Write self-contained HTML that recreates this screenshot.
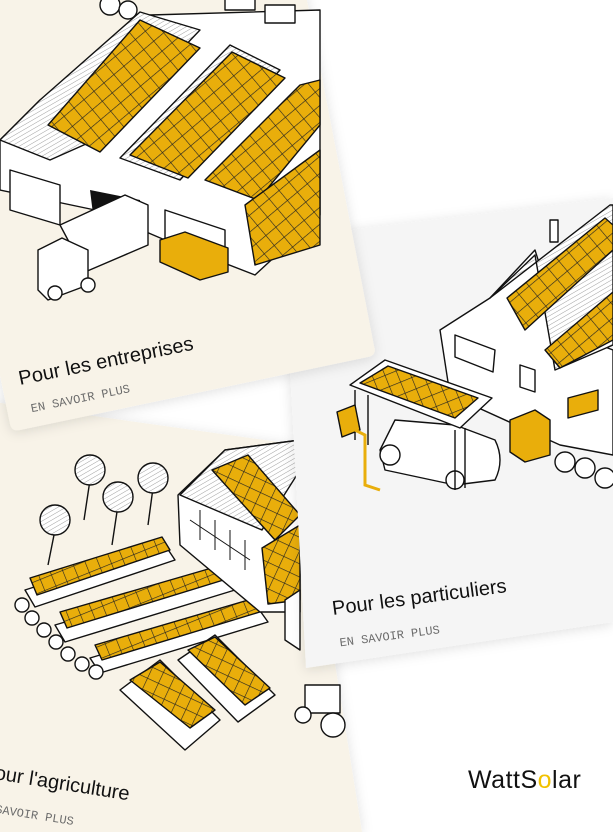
<!DOCTYPE html>
<html><head><meta charset="utf-8"><style>
html,body{margin:0;padding:0;background:#fff;width:613px;height:832px;overflow:hidden}
svg{display:block}
.t{font-family:"Liberation Sans",sans-serif;font-size:20px;fill:#111;font-weight:500}
.m{font-family:"Liberation Mono",monospace;font-size:12px;fill:#6b6b6b}
.o{stroke:#111;stroke-width:1.4;fill:#fff;stroke-linejoin:round}
.p{stroke:#111;stroke-width:1.4;stroke-linejoin:round}
</style></head><body>
<svg width="613" height="832" viewBox="0 0 613 832" xmlns="http://www.w3.org/2000/svg">
<defs>
<pattern id="g1" width="13" height="13" patternUnits="userSpaceOnUse" patternTransform="rotate(-40)">
<rect width="13" height="13" fill="#e9ae0b"/><path d="M0 0H13M0 0V13" stroke="#222" stroke-width="1.2"/></pattern>
<pattern id="g2" width="12" height="12" patternUnits="userSpaceOnUse" patternTransform="rotate(-22)">
<rect width="12" height="12" fill="#e9ae0b"/><path d="M0 0H12M0 0V12" stroke="#222" stroke-width="1.2"/></pattern>
<pattern id="g3" width="12" height="12" patternUnits="userSpaceOnUse" patternTransform="rotate(25)">
<rect width="12" height="12" fill="#e9ae0b"/><path d="M0 0H12M0 0V12" stroke="#222" stroke-width="1.2"/></pattern>
<pattern id="h" width="4" height="4" patternUnits="userSpaceOnUse" patternTransform="rotate(-30)">
<rect width="4" height="4" fill="#fff"/><path d="M0 0H4" stroke="#888" stroke-width="0.8"/></pattern>
<filter id="sh" x="-20%" y="-20%" width="140%" height="140%"><feDropShadow dx="0" dy="2" stdDeviation="6" flood-opacity="0.12"/></filter>
</defs>

<g filter="url(#sh)"><polygon points="-20,400 300,445 362,832 -20,832" fill="#f8f3e8"/></g>
<g>
 <g class="o">
  <line x1="55" y1="530" x2="48" y2="565"/><circle cx="55" cy="520" r="15" fill="url(#h)" stroke="#111"/>
  <line x1="90" y1="480" x2="84" y2="520"/><circle cx="90" cy="470" r="15" fill="url(#h)" stroke="#111"/>
  <line x1="118" y1="505" x2="112" y2="545"/><circle cx="118" cy="497" r="15" fill="url(#h)" stroke="#111"/>
  <line x1="153" y1="488" x2="148" y2="525"/><circle cx="153" cy="478" r="15" fill="url(#h)" stroke="#111"/>
 </g>
 <polygon class="o" points="25,590 165,545 175,560 35,607"/>
 <polygon class="p" points="30,578 162,537 170,550 37,595" fill="url(#g2)"/>
 <polygon class="o" points="55,625 225,575 235,590 65,642"/>
 <polygon class="p" points="60,612 222,565 230,578 67,628" fill="url(#g2)"/>
 <polygon class="o" points="90,658 258,608 268,622 100,673"/>
 <polygon class="p" points="95,645 255,598 263,611 102,660" fill="url(#g2)"/>
 <g class="o">
  <circle cx="22" cy="605" r="7"/><circle cx="32" cy="618" r="7"/><circle cx="44" cy="630" r="7"/><circle cx="56" cy="642" r="7"/><circle cx="68" cy="654" r="7"/><circle cx="82" cy="664" r="7"/><circle cx="96" cy="672" r="7"/>
 </g>
 <polygon class="o" points="178,495 225,450 300,440 300,612 260,612 180,545"/>
 <polygon class="p" points="180,495 225,450 300,440 300,470 262,530" fill="url(#h)"/>
 <polygon class="p" points="212,470 248,455 300,515 275,540" fill="url(#g3)"/>
 <polygon class="p" points="262,548 300,525 300,600 268,604" fill="url(#g3)"/>
 <path d="M190 520l60 40M200 510v30M215 520v30M230 530v30M245 540v30" stroke="#111" fill="none"/>
 <polygon class="o" points="120,690 160,660 220,720 185,750"/>
 <polygon class="p" points="130,680 160,662 215,710 190,728" fill="url(#g3)"/>
 <polygon class="o" points="178,660 215,635 275,695 238,722"/>
 <polygon class="p" points="188,650 215,637 270,688 245,705" fill="url(#g3)"/>
 <rect class="o" x="305" y="685" width="35" height="28"/><circle class="o" cx="333" cy="725" r="12"/><circle class="o" cx="303" cy="715" r="8"/>
 <polygon class="o" points="285,600 300,590 300,650 285,640"/>
</g>
<g transform="rotate(9 0 780)">
 <text class="t" x="-6" y="780">our l'agriculture</text>
 <text class="m" x="0" y="813">SAVOIR PLUS</text>
</g>

<g filter="url(#sh)"><polygon points="283,238 613,198 613,622 306,668" fill="#f5f5f5"/></g>
<g>
 <rect class="o" x="550" y="220" width="8" height="22"/>
 <polygon class="o" points="440,330 490,298 535,250 560,330 613,350 613,455 560,445 450,395"/>
 <polygon class="p" points="490,298 610,205 613,205 613,345 555,370 535,255" fill="url(#h)"/>
 <polygon class="p" points="507,298 605,218 613,225 613,250 525,330" fill="url(#g1)"/>
 <polygon class="p" points="545,350 613,292 613,340 560,368" fill="url(#g1)"/>
 <polygon class="o" points="455,335 495,350 493,372 455,357"/>
 <polygon class="o" points="520,365 535,370 535,392 520,387"/>
 <polygon class="p" points="568,398 598,390 598,410 568,418" fill="#e9ae0b"/>
 <polygon class="p" points="510,420 535,410 550,420 550,455 525,462 510,452" fill="#e9ae0b"/>
 <g class="o"><circle cx="565" cy="462" r="10"/><circle cx="585" cy="468" r="10"/><circle cx="605" cy="478" r="10"/></g>
 <path class="o" d="M380 450 L395 420 L455 425 L495 440 Q505 460 495 480 L455 485 L385 470 Z"/>
 <circle class="o" cx="390" cy="455" r="10"/><circle class="o" cx="455" cy="480" r="9"/>
 <polygon class="o" points="350,385 385,360 492,398 460,428"/>
 <polygon class="p" points="360,383 388,366 478,398 455,418" fill="url(#g2)"/>
 <path class="o" d="M355 390v50M368 395v50M455 430v60M465 428v60" fill="none"/>
 <polygon class="p" points="337,412 355,405 360,430 342,437" fill="#e9ae0b"/>
 <path d="M355 430 l10 5 v50 l15 5" stroke="#e9ae0b" stroke-width="3" fill="none"/>
</g>
<g transform="rotate(-7.5 333 615)">
 <text class="t" x="333" y="615">Pour les particuliers</text>
 <text class="m" x="336" y="647">EN SAVOIR PLUS</text>
</g>

<g filter="url(#sh)"><path d="M-80 -10 L305 -10 L374 346 Q377 355 368 357 L20 430 Q12 432 10 424 Z" fill="#f8f3e8"/></g>
<g>
 <polygon class="o" points="0,140 40,100 150,15 320,10 320,215 255,275 165,240 95,210 0,190"/>
 <polygon class="p" points="0,140 40,100 140,12 200,30 95,140 50,160" fill="url(#h)"/>
 <polygon class="p" points="48,125 140,20 200,48 100,152" fill="url(#g1)"/>
 <polygon class="p" points="120,158 230,45 280,70 180,180" fill="url(#h)"/>
 <polygon class="p" points="130,155 232,52 285,78 188,178" fill="url(#g1)"/>
 <polygon class="p" points="205,180 300,85 320,80 320,125 258,200" fill="url(#g1)"/>
 <polygon class="p" points="245,205 320,150 320,245 255,265" fill="url(#g1)"/>
 <path d="M10 170 l50 15 v40 l-50 -15z M165 210 l60 20 v30 l-60 -20z" class="o"/>
 <polygon points="90,190 140,200 145,245 95,230" fill="#111"/>
 <polygon class="o" points="60,225 125,195 148,205 148,245 85,272"/>
 <polygon class="o" points="38,250 62,238 88,250 88,285 48,300 38,290"/>
 <circle class="o" cx="55" cy="293" r="7"/><circle class="o" cx="88" cy="285" r="7"/>
 <polygon class="p" points="160,240 185,232 228,248 228,272 200,280 160,262" fill="#e9ae0b"/>
 <circle class="o" cx="110" cy="5" r="10" fill="url(#h)"/><circle class="o" cx="128" cy="10" r="9" fill="url(#h)"/>
 <rect class="o" x="225" y="-5" width="30" height="15"/><rect class="o" x="265" y="5" width="30" height="18"/>
</g>
<g transform="rotate(-11.5 20 385)">
 <text class="t" x="20" y="385">Pour les entreprises</text>
 <text class="m" x="26" y="414">EN SAVOIR PLUS</text>
</g>

<text x="468" y="788" font-family="Liberation Sans,sans-serif" font-size="25" fill="#111" letter-spacing="0.5">WattS<tspan fill="#f2c200">o</tspan>lar</text>
</svg>
</body></html>
